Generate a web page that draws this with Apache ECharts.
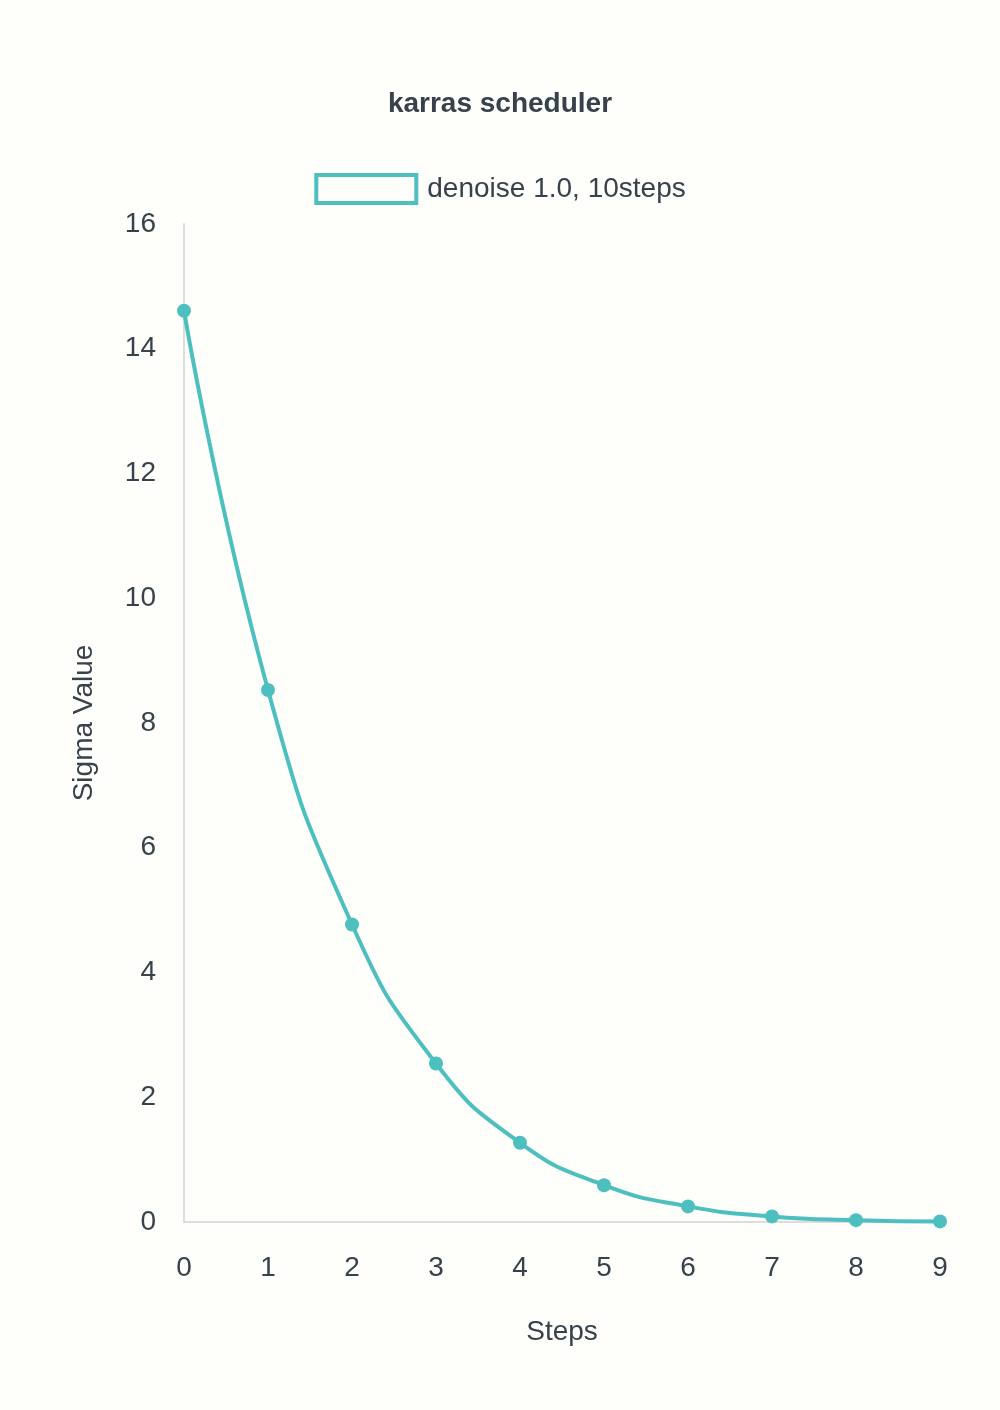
<!DOCTYPE html>
<html><head><meta charset="utf-8">
<script src="https://cdn.jsdelivr.net/npm/echarts@6/dist/echarts.min.js"></script>
<style>html,body{margin:0;padding:0;background:#fefefb;}#c{width:1000px;height:1410px;}</style>
</head><body><div id="c"></div>
<script>
const steps = ['0','1','2','3','4','5','6','7','8','9'];
const sigmas = [14.61, 8.53, 4.77, 2.54, 1.27, 0.59, 0.25, 0.09, 0.03, 0.01];
const seriesName = 'denoise 1.0, 10steps';
const color = '#4dbfbf';
const chart = echarts.init(document.getElementById('c'));
chart.setOption({
  backgroundColor: '#fefefb',
  textStyle: {fontFamily: '"Liberation Sans", Arial, sans-serif'},
  title: {text: 'karras scheduler', left: 'center', top: 85,
    textStyle: {fontSize: 28, fontWeight: 'bold', color: '#37424c'}},
  legend: {top: 168, left: 'center', itemWidth: 100, itemHeight: 28, itemGap: 14,
    textStyle: {fontSize: 28, color: '#37424c', padding: [0, 0, 0, 6]},
    data: [{name: seriesName, icon: 'rect', itemStyle: {color: 'transparent', borderColor: color, borderWidth: 4}}]},
  grid: {left: 184, right: 60, top: 224, bottom: 188, containLabel: false},
  xAxis: {type: 'category', data: steps, boundaryGap: false, name: 'Steps', nameLocation: 'middle', nameGap: 96,
    nameTextStyle: {fontSize: 28, color: '#37424c'},
    axisLine: {lineStyle: {color: '#dddddd', width: 2}}, axisTick: {show: false},
    axisLabel: {fontSize: 28, color: '#37424c', margin: 32}},
  yAxis: {type: 'value', min: 0, max: 16, interval: 2, name: 'Sigma Value', nameLocation: 'middle', nameGap: 86,
    nameTextStyle: {fontSize: 28, color: '#37424c'},
    axisLine: {show: true, lineStyle: {color: '#dddddd', width: 2}}, axisTick: {show: false},
    splitLine: {show: false}, axisLabel: {fontSize: 28, color: '#37424c', margin: 28}},
  series: [{name: seriesName, type: 'line', data: sigmas, smooth: true, symbol: 'circle', symbolSize: 14,
    lineStyle: {color: color, width: 4}, itemStyle: {color: color}}]
});
</script></body></html>
